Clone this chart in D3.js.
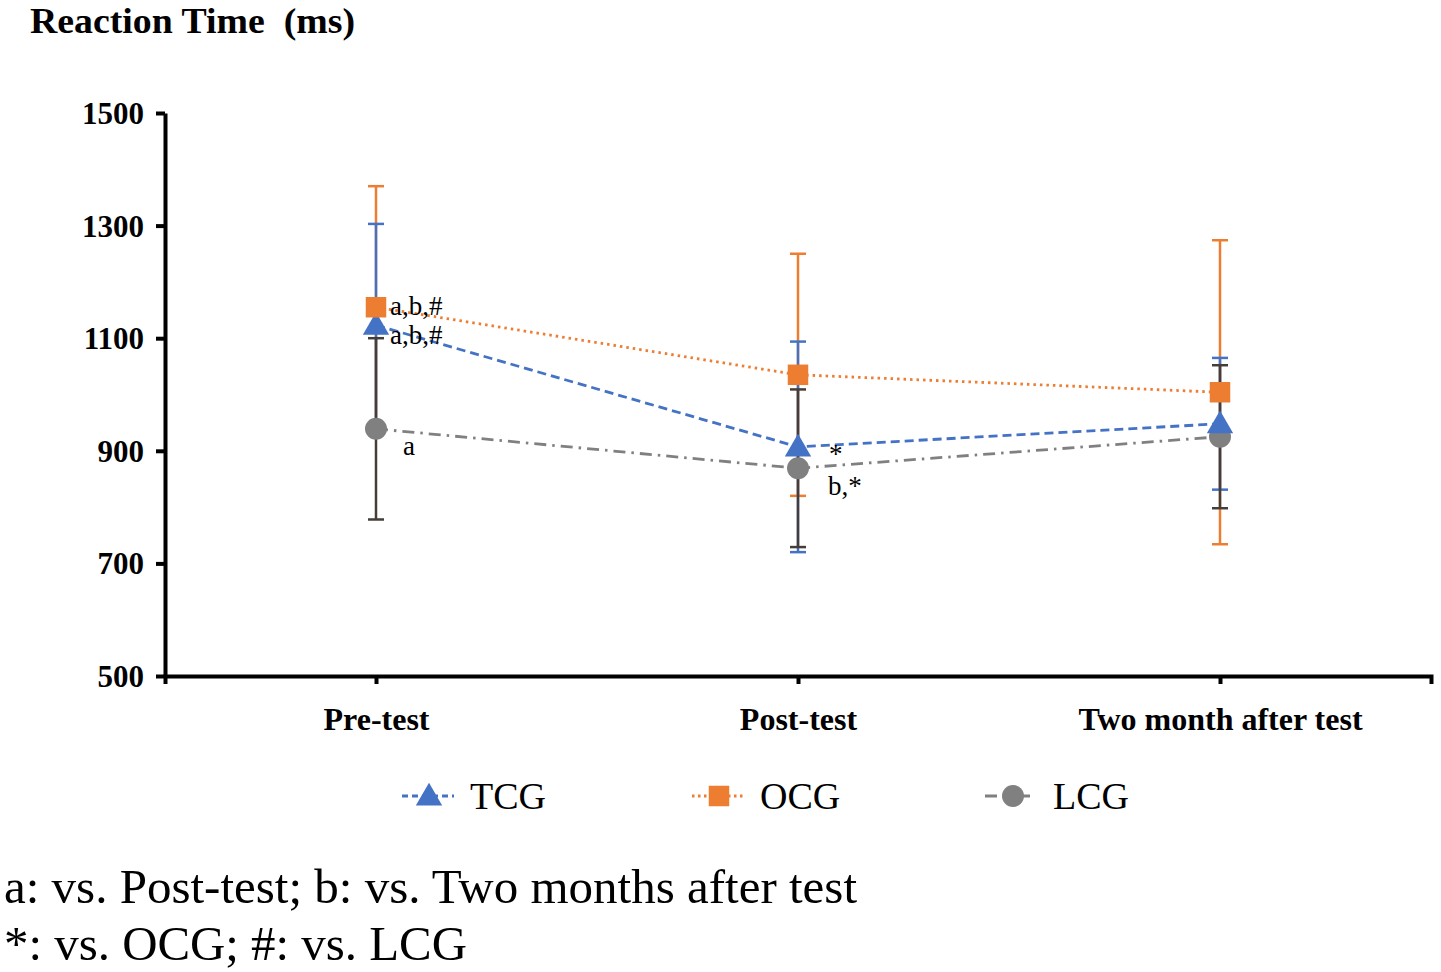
<!DOCTYPE html>
<html>
<head>
<meta charset="utf-8">
<script src="https://cdn.jsdelivr.net/npm/d3@7"></script>
<style>
  body { margin: 0; background: #fff; }
  text { font-family: "Liberation Serif", "Times New Roman", serif; }
</style>
</head>
<body>
<svg id="chart" width="1441" height="972"></svg>
<script>
"use strict";
// categories on the x axis
var phases = ["Pre-test", "Post-test", "Two month after test"];
// group means (ms)
var tcgMean = [1123, 907, 948];
var ocgMean = [1155, 1035, 1004];
var lcgMean = [939, 869, 925];
// error bar half lengths (SD)
var tcgSD = [180, 187, 117];
var ocgSD = [215, 215, 270];
var lcgSD = [161, 140, 127];
var yTicks = [500, 700, 900, 1100, 1300, 1500];

var svg = d3.select("#chart");

var x = d3.scalePoint().domain(phases).range([165, 1431]).padding(0.5);
var y = d3.scaleLinear().domain([500, 1500]).range([676, 113]);

var series = [
    { name: "TCG", mean: tcgMean, sd: tcgSD, color: "#4472C4", bar: "#4472C4", dash: "9,5", shape: d3.symbolTriangle, size: 300 },
    { name: "OCG", mean: ocgMean, sd: ocgSD, color: "#ED7D31", bar: "#ED7D31", dash: "2.5,4", shape: d3.symbolSquare, size: 420 },
    { name: "LCG", mean: lcgMean, sd: lcgSD, color: "#808080", bar: "#453d38", dash: "12,6,2.5,6", shape: d3.symbolCircle, size: 380 }
];

// title
svg.append("text")
    .attr("x", 30).attr("y", 33)
    .attr("font-size", 36).attr("font-weight", "bold")
    .attr("textLength", 325).attr("lengthAdjust", "spacingAndGlyphs")
    .style("white-space", "pre")
    .text("Reaction Time  (ms)");

// axes
var yAxis = svg.append("g")
    .attr("transform", "translate(165,0)")
    .call(d3.axisLeft(y).tickValues(yTicks).tickFormat(d3.format("d")).tickSize(9).tickSizeOuter(0).tickPadding(12));
var xAxis = svg.append("g")
    .attr("transform", "translate(0,676)")
    .call(d3.axisBottom(x).tickSize(8).tickSizeOuter(8).tickPadding(23));
[yAxis, xAxis].forEach(function (g) {
    g.select(".domain").attr("stroke-width", 4).attr("stroke", "#000");
    g.selectAll(".tick line").attr("stroke-width", 4).attr("stroke", "#000");
    g.selectAll(".tick text")
        .attr("font-family", "Liberation Serif")
        .attr("font-size", 31)
        .attr("font-weight", "bold")
        .attr("fill", "#000");
});
xAxis.selectAll(".tick text").attr("font-size", 32);
yAxis.selectAll(".tick text").attr("dy", "0.34em");

// error bars (OCG first, LCG on top)
function appendErrorBars(onto, s) {
    var g = onto.append("g");
    s.mean.forEach(function (m, i) {
        var cx = x(phases[i]);
        g.append("line")
            .attr("x1", cx).attr("x2", cx)
            .attr("y1", y(m - s.sd[i])).attr("y2", y(m + s.sd[i]))
            .attr("stroke", s.bar).attr("stroke-width", 2.5);
        [m - s.sd[i], m + s.sd[i]].forEach(function (v) {
            g.append("line")
                .attr("x1", cx - 8).attr("x2", cx + 8)
                .attr("y1", y(v)).attr("y2", y(v))
                .attr("stroke", s.bar).attr("stroke-width", 2.5);
        });
    });
}
appendErrorBars(svg, series[1]);
appendErrorBars(svg, series[0]);
appendErrorBars(svg, series[2]);

// lines and markers
var line = d3.line().x(function (d, i) { return x(phases[i]); }).y(function (d) { return y(d); });
series.forEach(function (s) {
    svg.append("path")
        .attr("d", line(s.mean))
        .attr("fill", "none")
        .attr("stroke", s.color)
        .attr("stroke-width", 2.8)
        .attr("stroke-dasharray", s.dash);
});
[series[2], series[0], series[1]].forEach(function (s) {
    s.mean.forEach(function (m, i) {
        svg.append("path")
            .attr("d", d3.symbol().type(s.shape).size(s.size)())
            .attr("transform", "translate(" + x(phases[i]) + "," + (y(m) + (s.shape === d3.symbolTriangle ? 2 : 0)) + ")")
            .attr("fill", s.color);
    });
});

// significance marks
var marks = [
    { txt: "a,b,#", i: 0, v: ocgMean[0], dx: 14, dy: 8 },
    { txt: "a,b,#", i: 0, v: tcgMean[0], dx: 14, dy: 19 },
    { txt: "a", i: 0, v: lcgMean[0], dx: 27, dy: 26 },
    { txt: "*", i: 1, v: tcgMean[1], dx: 31, dy: 16 },
    { txt: "b,*", i: 1, v: lcgMean[1], dx: 30, dy: 27 }
];
marks.forEach(function (d) {
    svg.append("text")
        .attr("x", x(phases[d.i]) + d.dx)
        .attr("y", y(d.v) + d.dy)
        .attr("font-size", 27)
        .text(d.txt);
});

// legend
var legendX = [402, 692, 985];
series.forEach(function (s, k) {
    var lx = legendX[k];
    var g = svg.append("g").attr("transform", "translate(" + lx + ",796)");
    g.append("line")
        .attr("x1", 0).attr("x2", 52)
        .attr("stroke", s.color).attr("stroke-width", 2.8)
        .attr("stroke-dasharray", s.name === "TCG" ? "6,4" : (s.name === "OCG" ? "2.5,3.5" : "12,14,3,4"));
    g.append("path")
        .attr("d", d3.symbol().type(s.shape).size(s.size)())
        .attr("transform", "translate(" + (s.name === "LCG" ? 28 : 27) + "," + (s.shape === d3.symbolTriangle ? 2 : 0) + ")")
        .attr("fill", s.color);
    g.append("text")
        .attr("x", 68).attr("y", 13)
        .attr("font-size", 38)
        .text(s.name);
});

// footnotes
svg.append("text").attr("x", 4).attr("y", 903).attr("font-size", 48)
    .attr("textLength", 853).attr("lengthAdjust", "spacingAndGlyphs")
    .text("a: vs. Post-test; b: vs. Two months after test");
svg.append("text").attr("x", 4).attr("y", 960).attr("font-size", 48)
    .attr("textLength", 463).attr("lengthAdjust", "spacingAndGlyphs")
    .text("*: vs. OCG; #: vs. LCG");
</script>
</body>
</html>
